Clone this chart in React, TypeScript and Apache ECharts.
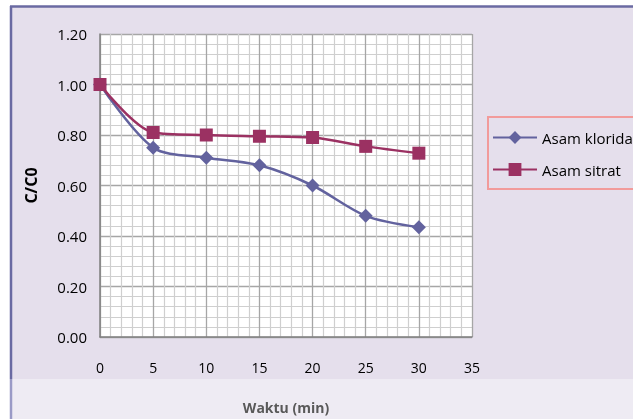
import React, { useEffect, useRef } from "react";
import * as echarts from "echarts";

const times = [0, 5, 10, 15, 20, 25, 30];
const asamKlorida = [1.0, 0.75, 0.71, 0.68, 0.6, 0.48, 0.435];
const asamSitrat = [1.0, 0.81, 0.8, 0.795, 0.79, 0.755, 0.728];
const seriesNames = ["Asam klorida", "Asam sitrat"];

const FONT = "Open Sans";

export default function App() {
  const ref = useRef<HTMLDivElement>(null);
  useEffect(() => {
    if (!ref.current) return;
    const chart = echarts.init(ref.current, null, { renderer: "svg" });
    const toPairs = (vals: number[]) => times.map((t, i) => [t, vals[i]]);
    chart.setOption({
      animation: false,
      backgroundColor: "transparent",
      graphic: [
        { type: "rect", shape: { x: 0, y: 0, width: 633, height: 419 }, style: { fill: "#ffffff" }, z: -10, silent: true },
        { type: "rect", shape: { x: 10, y: 6, width: 623, height: 373 }, style: { fill: "#E5DFEC" }, z: -9, silent: true },
        { type: "rect", shape: { x: 10, y: 379, width: 623, height: 40 }, style: { fill: "#EEEBF3" }, z: -9, silent: true },
        { type: "line", shape: { x1: 10, y1: 6.5, x2: 633, y2: 6.5 }, style: { stroke: "#6A6AA2", lineWidth: 2.5 }, z: -8, silent: true },
        { type: "line", shape: { x1: 11, y1: 6, x2: 11, y2: 379 }, style: { stroke: "#6A6AA2", lineWidth: 2.5 }, z: -8, silent: true },
        { type: "line", shape: { x1: 11, y1: 379, x2: 11, y2: 419 }, style: { stroke: "#9A9AC6", lineWidth: 2.5 }, z: -8, silent: true },
      ],
      grid: { left: 100, top: 34, width: 372, height: 305, backgroundColor: "#ffffff", show: true, borderWidth: 0 },
      legend: {
        orient: "vertical",
        left: 488,
        top: 117,
        data: seriesNames,
        borderColor: "#F29B9B",
        borderWidth: 2,
        padding: [13, 6, 12, 4],
        itemGap: 17,
        itemWidth: 44,
        itemHeight: 16,
        textStyle: { fontFamily: FONT, fontSize: 15, color: "#000000" },
      },
      xAxis: {
        type: "value",
        min: 0,
        max: 35,
        interval: 5,
        name: "Waktu (min)",
        nameLocation: "middle",
        nameGap: 63,
        nameTextStyle: { fontFamily: FONT, fontSize: 14, fontWeight: "bold", color: "#595959" },
        axisLine: { show: true, lineStyle: { color: "#808080", width: 1.5 } },
        axisTick: { show: false },
        axisLabel: { margin: 23, fontFamily: FONT, fontSize: 14, color: "#000000" },
        splitLine: { show: true, lineStyle: { color: "#A6A6A6", width: 1.3 } },
        minorTick: { show: false, splitNumber: 5 },
        minorSplitLine: { show: true, lineStyle: { color: "#CFCFCF", width: 1.2 } },
      },
      yAxis: {
        type: "value",
        min: 0,
        max: 1.2,
        interval: 0.2,
        name: "C/C0",
        nameLocation: "middle",
        nameGap: 61,
        nameRotate: 90,
        nameTextStyle: { fontFamily: FONT, fontSize: 16, fontWeight: "bold", color: "#000000" },
        axisLine: { show: true, lineStyle: { color: "#808080", width: 1.5 } },
        axisTick: { show: false },
        axisLabel: {
          margin: 13,
          fontFamily: FONT,
          fontSize: 15,
          color: "#000000",
          formatter: (v: number) => v.toFixed(2),
        },
        splitLine: { show: true, lineStyle: { color: "#A6A6A6", width: 1.3 } },
        minorTick: { show: false, splitNumber: 5 },
        minorSplitLine: { show: true, lineStyle: { color: "#CFCFCF", width: 1.2 } },
      },
      series: [
        {
          name: seriesNames[0],
          type: "line",
          data: toPairs(asamKlorida),
          smooth: 0.3,
          symbol: "diamond",
          symbolSize: 14,
          lineStyle: { color: "#62629E", width: 2.5 },
          itemStyle: { color: "#62629E" },
          z: 3,
        },
        {
          name: seriesNames[1],
          type: "line",
          data: toPairs(asamSitrat),
          smooth: 0.3,
          symbol: "rect",
          symbolSize: 13,
          lineStyle: { color: "#9B3162", width: 2.5 },
          itemStyle: { color: "#9B3162" },
          z: 4,
        },
      ],
    });
    return () => chart.dispose();
  }, []);
  return <div ref={ref} style={{ position: "fixed", left: 0, top: 0, width: 633, height: 419 }} />;
}
